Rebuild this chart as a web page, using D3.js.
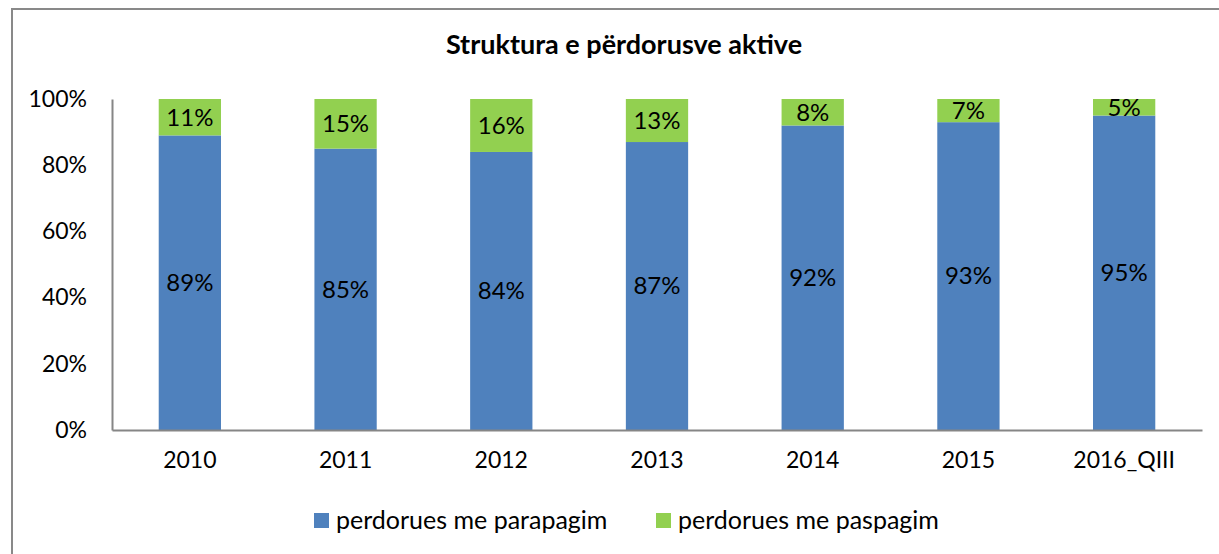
<!DOCTYPE html>
<html>
<head>
<meta charset="utf-8">
<script src="https://cdn.jsdelivr.net/npm/d3@7"></script>
<style>
  body { margin: 0; background: #fff; }
  text { font-family: Lato, "Open Sans", sans-serif; fill: #000; }
</style>
</head>
<body>
<svg id="chart" width="1219" height="554"></svg>
<script>
// chart data
var categories = ["2010", "2011", "2012", "2013", "2014", "2015", "2016_QIII"];
var parapagim = [89, 85, 84, 87, 92, 93, 95];
var paspagim = [11, 15, 16, 13, 8, 7, 5];
var seriesNames = ["perdorues me parapagim", "perdorues me paspagim"];
var yTicks = [0, 20, 40, 60, 80, 100];
var colors = ["#4f81bd", "#92d050"];

var svg = d3.select("#chart");
var width = 1219, height = 554;
var margin = {left: 112, right: 17, top: 99, bottom: 124};

// outer frame (left and top edges only are in view)
svg.append("path")
  .attr("d", "M12," + height + "V9H" + width)
  .attr("fill", "none").attr("stroke", "#898989").attr("stroke-width", 2);

svg.append("text")
  .attr("x", 624).attr("y", 54)
  .attr("text-anchor", "middle")
  .style("font-weight", "bold").style("font-size", "27px")
  .text("Struktura e përdorusve aktive");

var x = d3.scaleBand()
  .domain(categories)
  .range([margin.left, width - margin.right])
  .paddingInner(0.6).paddingOuter(0.3);

var y = d3.scaleLinear()
  .domain([0, 100])
  .range([height - margin.bottom, margin.top]);

var rows = categories.map(function(c, i) {
  return {cat: c, parapagim: parapagim[i], paspagim: paspagim[i]};
});
var stacked = d3.stack().keys(["parapagim", "paspagim"])(rows);

var groups = svg.selectAll("g.series")
  .data(stacked).enter().append("g")
  .attr("fill", function(d, i) { return colors[i]; });

groups.selectAll("rect")
  .data(function(d) { return d; }).enter().append("rect")
  .attr("x", function(d) { return x(d.data.cat); })
  .attr("width", x.bandwidth())
  .attr("y", function(d) { return y(d[1]); })
  .attr("height", function(d) { return y(d[0]) - y(d[1]); });

groups.selectAll("text")
  .data(function(d) { return d; }).enter().append("text")
  .attr("x", function(d) { return x(d.data.cat) + x.bandwidth() / 2; })
  .attr("y", function(d) { return (y(d[0]) + y(d[1])) / 2; })
  .attr("dy", "0.35em")
  .attr("text-anchor", "middle")
  .style("font-size", "24px")
  .text(function(d) { return (d[1] - d[0]) + "%"; });

// axes
var yAxis = svg.append("g")
  .attr("transform", "translate(" + margin.left + ",0)")
  .call(d3.axisLeft(y).tickValues(yTicks).tickSize(0).tickPadding(25)
    .tickFormat(function(d) { return d + "%"; }));
yAxis.selectAll("text").style("font-size", "23px").attr("fill", "#000");
yAxis.select(".domain").attr("stroke", "#868686").attr("stroke-width", 2);

var xAxis = svg.append("g")
  .attr("transform", "translate(0," + (height - margin.bottom) + ")")
  .call(d3.axisBottom(x).tickSize(0).tickPadding(22));
xAxis.selectAll("text").style("font-size", "23px").attr("fill", "#000");
xAxis.select(".domain").attr("stroke", "#868686").attr("stroke-width", 2);

// legend
var legendX = [314, 656];
var legend = svg.selectAll("g.legend")
  .data(seriesNames).enter().append("g")
  .attr("transform", function(d, i) { return "translate(" + legendX[i] + ",513)"; });
legend.append("rect")
  .attr("width", 15).attr("height", 15)
  .attr("fill", function(d, i) { return colors[i]; });
legend.append("text")
  .attr("x", 22).attr("y", 7).attr("dy", "0.35em")
  .style("font-size", "25px")
  .text(function(d) { return d; });
</script>
</body>
</html>
